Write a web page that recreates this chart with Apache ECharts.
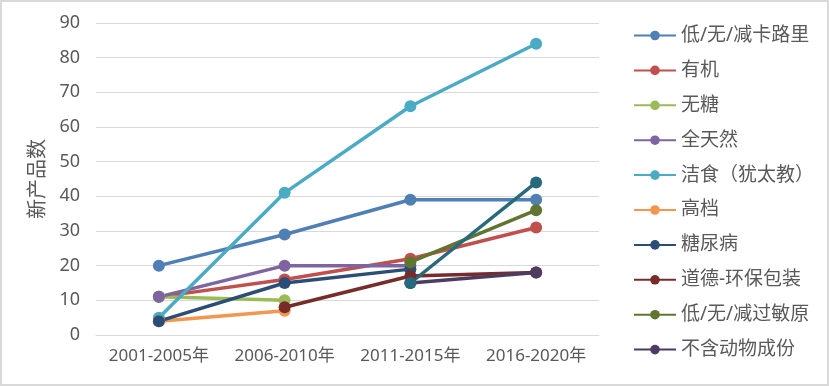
<!DOCTYPE html>
<html><head><meta charset="utf-8">
<script src="https://cdn.jsdelivr.net/npm/echarts@6/dist/echarts.min.js"></script>
<style>html,body{margin:0;padding:0;background:#fff}#c{width:829px;height:386px}</style>
</head><body><div id="c"></div>
<script>
var categories = ['2001-2005年','2006-2010年','2011-2015年','2016-2020年'];
var seriesNames = ['低/无/减卡路里','有机','无糖','全天然','洁食（犹太教）','高档','糖尿病','道德-环保包装','低/无/减过敏原','不含动物成份','系列11'];
var calorie   = [20, 29, 39, 39];
var organic   = [11, 16, 22, 31];
var sugarFree = [11, 10, null, null];
var natural   = [11, 20, 20, null];
var kosher    = [5, 41, 66, 84];
var premium   = [4, 7, null, null];
var diabetes  = [4, 15, 19, null];
var ethical   = [null, 8, 17, 18];
var allergen  = [null, null, 21, 36];
var noAnimal  = [null, null, 15, 18];
var series11  = [null, null, 15, 44];
var yTicks = [0,10,20,30,40,50,60,70,80,90];

var values = [calorie, organic, sugarFree, natural, kosher, premium, diabetes, ethical, allergen, noAnimal, series11];
var colors = ['#4F7FB5','#C0504D','#9BBB59','#7E64A0','#4BAAC4','#F29650','#2C4D75','#772C2A','#5F7530','#4D3B62','#276A7C'];
var FONT = '"Noto Sans", "Noto Sans CJK SC", sans-serif';

var chart = echarts.init(document.getElementById('c'), null, {renderer:'canvas'});
var series = values.map(function(v, i){
  return {
    name: seriesNames[i], type: 'line', data: v,
    symbol: 'circle', symbolSize: 12, showSymbol: true,
    lineStyle: {width: 3.5, color: colors[i]},
    itemStyle: {color: colors[i]},
    connectNulls: false, animation: false,
    emphasis: {disabled: true}
  };
});
chart.setOption({
  animation: false,
  backgroundColor: '#fff',
  graphic: [{type:'rect', shape:{x:1,y:1,width:827,height:384}, style:{fill:'none', stroke:'#d9d9d9', lineWidth:2}, silent:true}],
  grid: {left: 96, right: 230, top: 23, bottom: 51},
  legend: {
    orient: 'vertical', left: 628, top: 21,
    data: seriesNames.slice(0, 10),
    itemWidth: 42, itemHeight: 12, itemGap: 15.9,
    textStyle: {fontSize: 19, color: '#595959', fontFamily: FONT}
  },
  xAxis: {
    type: 'category', data: categories, boundaryGap: true,
    axisLine: {show: true, lineStyle: {color: '#d9d9d9', width: 1}},
    axisTick: {show: false},
    axisLabel: {interval: 0, fontSize: 17, color: '#595959', margin: 13, fontFamily: FONT}
  },
  yAxis: {
    type: 'value', min: yTicks[0], max: yTicks[yTicks.length-1], interval: 10,
    name: '新产品数', nameLocation: 'middle', nameGap: 46, nameRotate: 90,
    nameTextStyle: {fontSize: 20, color: '#595959', fontFamily: FONT},
    axisLine: {show: false}, axisTick: {show: false},
    splitLine: {lineStyle: {color: '#d9d9d9', width: 1}},
    axisLabel: {fontSize: 18, color: '#595959', margin: 16, fontFamily: FONT}
  },
  series: series
});
</script></body></html>
